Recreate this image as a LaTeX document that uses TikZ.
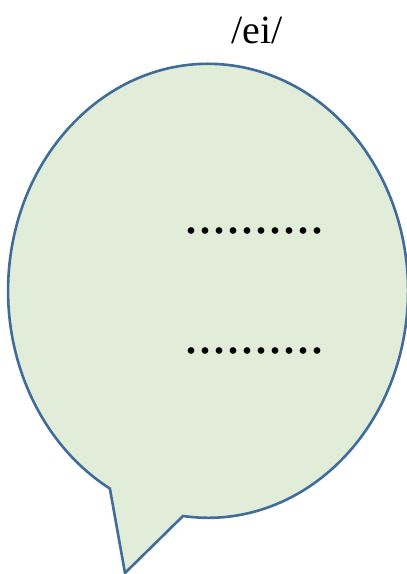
\documentclass[tikz,border=0pt]{standalone}
\usepackage{fontspec}
\setmainfont{Liberation Serif}
\usepackage{xcolor}
\definecolor{bubbleline}{RGB}{64,108,155}
\definecolor{bubblefill}{RGB}{225,237,216}
\usepackage{tikz}
\usetikzlibrary{positioning}
\tikzset{
  bubble/.style  ={draw=bubbleline,fill=bubblefill,line width=1.3pt,line join=miter},
  sound/.style   ={inner sep=0pt,font=\fontsize{20}{24}\selectfont},
  blank/.style   ={inner sep=0pt,font=\fontsize{28}{30}\selectfont},
}
\begin{document}
\begin{tikzpicture}[x=0.5pt,y=-0.5pt]
  \useasboundingbox (0,0) rectangle (407,574);
  % speech bubble: ellipse arc plus tail
  \coordinate (tailR) at (183,516);
  \coordinate (tailTip) at (125,573);
  \draw[bubble] (tailR) arc[start angle=97.2,end angle=-240.6,x radius=200,y radius=227]
    -- (tailTip) -- cycle;
  \node[sound,anchor=base] (ipa) at (257,43) {/ei/};
  \node[blank,anchor=base west] (gap1) at (184,233.5) {..........};
  \node[blank,anchor=base west] (gap2) at (184,353) {..........};
\end{tikzpicture}
\end{document}
